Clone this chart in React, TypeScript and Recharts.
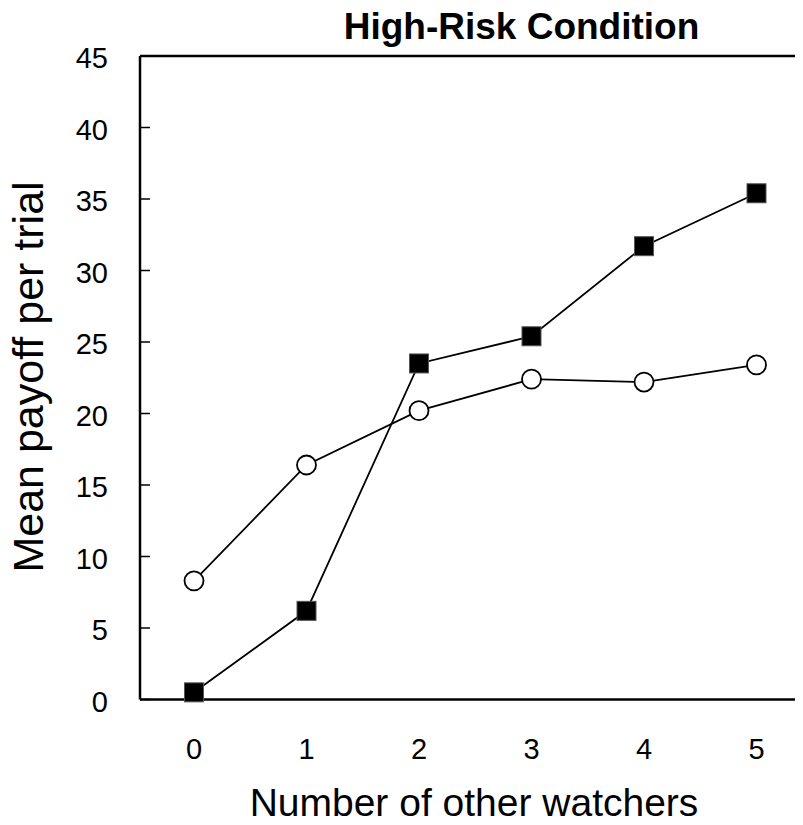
import React from "react";
import { LineChart, Line, XAxis, YAxis, ReferenceLine } from "recharts";

const watchers = [0, 1, 2, 3, 4, 5];
const highRiskSquares = [0.5, 6.2, 23.5, 25.4, 31.7, 35.4];
const highRiskCircles = [8.3, 16.4, 20.2, 22.4, 22.2, 23.4];
const yTicks = [0, 5, 10, 15, 20, 25, 30, 35, 40, 45];
const xTicks = [0, 1, 2, 3, 4, 5];

const data = watchers.map((w, i) => ({
  w,
  sq: highRiskSquares[i],
  ci: highRiskCircles[i],
}));

const FONT = "'Liberation Sans', Arial, Helvetica, sans-serif";
const Y_TICK_MARGIN = 32;

const YTick = (props: any) => {
  const { x, y, payload } = props;
  const axisX = x + Y_TICK_MARGIN;
  return (
    <g>
      <line x1={axisX} x2={axisX + 10} y1={y} y2={y} stroke="#000" strokeWidth={1.5} />
      <text x={x} y={y} dy={12} textAnchor="end" fontSize={29} fontFamily={FONT} fill="#000">
        {payload.value}
      </text>
    </g>
  );
};

const XTick = (props: any) => {
  const { x, y, payload } = props;
  return (
    <text x={x} y={y} dy={57} textAnchor="middle" fontSize={29} fontFamily={FONT} fill="#000">
      {payload.value}
    </text>
  );
};

const SquareDot = (props: any) => {
  const { cx, cy, index } = props;
  if (cx == null || cy == null) return <g key={`s${index}`} />;
  return (
    <rect
      key={`s${index}`}
      x={cx - 9.5}
      y={cy - 9.5}
      width={19}
      height={19}
      fill="#000"
      stroke="#555"
      strokeWidth={1}
    />
  );
};

const CircleDot = (props: any) => {
  const { cx, cy, index } = props;
  if (cx == null || cy == null) return <g key={`c${index}`} />;
  return <circle key={`c${index}`} cx={cx} cy={cy} r={9.5} fill="#fff" stroke="#000" strokeWidth={1.8} />;
};

export default function App() {
  return (
    <div
      style={{
        position: "relative",
        margin: -8,
        width: 803,
        height: 825,
        overflow: "hidden",
        background: "#fff",
      }}
    >
      <LineChart
        width={830}
        height={825}
        data={data}
        margin={{ top: 56, left: 80, right: 15, bottom: 95.5 }}
      >
        <XAxis
          dataKey="w"
          type="number"
          domain={[-0.48, 5.52]}
          ticks={xTicks}
          height={30}
          tickSize={0}
          tickLine={false}
          axisLine={{ stroke: "#000", strokeWidth: 2.5 }}
          tick={<XTick />}
          interval={0}
        />
        <YAxis
          type="number"
          domain={[0, 45]}
          ticks={yTicks}
          width={60}
          tickSize={0}
          tickMargin={Y_TICK_MARGIN}
          tickLine={false}
          axisLine={{ stroke: "#000", strokeWidth: 2.5 }}
          tick={<YTick />}
          interval={0}
        />
        <ReferenceLine y={45} stroke="#000" strokeWidth={2.5} />
        <Line
          dataKey="ci"
          stroke="#000"
          strokeWidth={1.8}
          dot={CircleDot}
          activeDot={false}
          isAnimationActive={false}
        />
        <Line
          dataKey="sq"
          stroke="#000"
          strokeWidth={1.8}
          dot={SquareDot}
          activeDot={false}
          isAnimationActive={false}
        />
      </LineChart>
      <svg
        width={803}
        height={825}
        style={{ position: "absolute", left: 0, top: 0, pointerEvents: "none" }}
      >
        <text x={521.5} y={39} textAnchor="middle" fontSize={37} fontWeight="bold" fontFamily={FONT} fill="#000">
          High-Risk Condition
        </text>
        <text x={474} y={816} textAnchor="middle" fontSize={39} fontFamily={FONT} fill="#000">
          Number of other watchers
        </text>
        <text
          x={43}
          y={377}
          textAnchor="middle"
          fontSize={43}
          fontFamily={FONT}
          fill="#000"
          transform="rotate(-90, 43, 377)"
        >
          Mean payoff per trial
        </text>
      </svg>
    </div>
  );
}
